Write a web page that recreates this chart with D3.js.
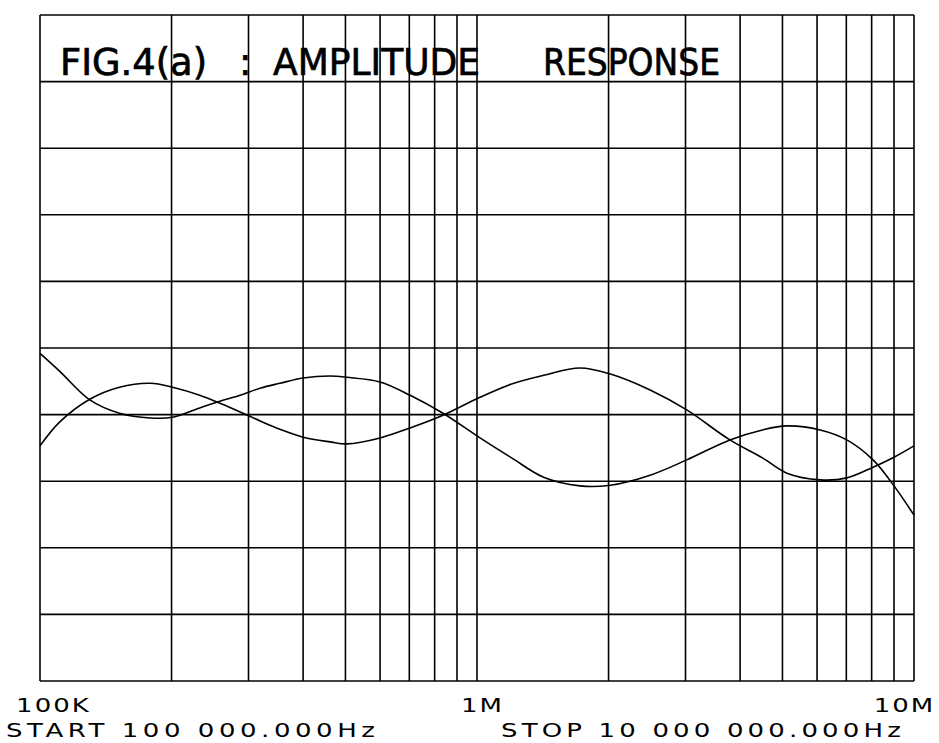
<!DOCTYPE html>
<html>
<head>
<meta charset="utf-8">
<script src="https://cdn.jsdelivr.net/npm/d3@7"></script>
<style>
  body { margin: 0; background: #fff; }
  svg { display: block; }
  .grid line { stroke: #000; stroke-width: 1.6; }
  .plot-text { font-family: "DejaVu Sans", sans-serif; fill: #000; }
  .plotter { font-size: 20px; }
</style>
</head>
<body>
<div id="chart"></div>
<script>
// frequency points (Hz) shared by both traces
const freqs = [100e3, 111e3, 130e3, 152e3, 179e3, 201e3, 232e3, 258e3, 287e3, 320e3,
    354e3, 400e3, 461e3, 504e3, 600e3, 703e3, 836e3, 1016e3, 1200e3, 1420e3,
    1720e3, 2020e3, 2490e3, 3020e3, 3790e3, 4500e3, 5120e3, 6100e3, 7020e3,
    8060e3, 9000e3, 10000e3]

// amplitude in vertical divisions (0 = bottom of screen, 10 = top)
const traceA = [4.92, 4.65, 4.22, 4.02, 3.95, 3.96, 4.10, 4.20, 4.29, 4.40,
    4.47, 4.55, 4.58, 4.56, 4.49, 4.29, 4.02, 3.65, 3.35, 3.06,
    2.93, 2.94, 3.09, 3.32, 3.62, 3.77, 3.83, 3.77, 3.62,
    3.32, 2.93, 2.49]
const traceB = [3.53, 3.89, 4.23, 4.41, 4.47, 4.41, 4.29, 4.17, 4.04, 3.90,
    3.78, 3.66, 3.59, 3.56, 3.65, 3.80, 3.99, 4.26, 4.46, 4.59,
    4.70, 4.61, 4.37, 4.07, 3.62, 3.35, 3.12, 3.02, 3.05,
    3.21, 3.36, 3.53]

const axisTicks = [1e5, 1e6, 1e7]
const axisLabels = ["100K", "1M", "10M"]
const startLabel = "START 100 000.000Hz"
const stopLabel = "STOP 10 000 000.000Hz"
const titleParts = ["FIG.4(a)", ":", "AMPLITUDE", "RESPONSE"]

const W = 939, H = 743
const margin = { top: 15, right: 25, bottom: 62, left: 40 }
const width = W - margin.left - margin.right
const height = H - margin.top - margin.bottom
const wide = 1.3   // horizontal stretch of the plotter lettering

const svg = d3.select("#chart").append("svg")
    .attr("width", W)
    .attr("height", H)

const g = svg.append("g")
    .attr("transform", "translate(" + margin.left + "," + margin.top + ")")

const x = d3.scaleLog()
    .domain([1e5, 1e7])
    .range([0, width])
const y = d3.scaleLinear()
    .domain([0, 10])
    .range([height, 0])

// grid: every 1..9 multiple on the log axis, ten divisions vertically
const grid = g.append("g").attr("class", "grid")
grid.selectAll(".vx")
    .data(x.ticks())
    .enter().append("line")
    .attr("x1", d => x(d)).attr("x2", d => x(d))
    .attr("y1", 0).attr("y2", height)
grid.selectAll(".hy")
    .data(y.ticks(10))
    .enter().append("line")
    .attr("x1", 0).attr("x2", width)
    .attr("y1", d => y(d)).attr("y2", d => y(d))

// handwritten title in the first row (absolute page x)
const titleX = [60, 239, 273, 543]
const titleLen = [147, null, 207, 177]
svg.selectAll(".title")
    .data(titleParts)
    .enter().append("text")
    .attr("class", "plot-text")
    .attr("x", (d, i) => titleX[i])
    .attr("y", 75)
    .attr("textLength", (d, i) => titleLen[i])
    .attr("lengthAdjust", "spacingAndGlyphs")
    .style("font-size", "37px")
    .style("stroke", "#000")
    .style("stroke-width", 0.7)
    .text(d => d)

const line = d3.line()
    .x((d, i) => x(freqs[i]))
    .y(d => y(d))
    .curve(d3.curveCatmullRom)

g.selectAll(".trace")
    .data([traceA, traceB])
    .enter().append("path")
    .attr("d", line)
    .attr("fill", "none")
    .attr("stroke", "#000")
    .attr("stroke-width", 1.6)

// frequency labels under the screen, in the analyser's wide plotter lettering
const labelDx = [13, 5, -10]
const xAxis = d3.axisBottom(x)
    .tickValues(axisTicks)
    .tickSize(0)
    .tickFormat((d, i) => axisLabels[i])
const axisG = g.append("g")
    .attr("transform", "translate(0," + height + ")")
    .call(xAxis)
axisG.select(".domain").remove()
axisG.selectAll("text")
    .attr("class", "plot-text plotter")
    .attr("y", 31)
    .attr("dy", 0)
    .attr("text-anchor", "middle")
    .style("letter-spacing", "1.6px")
    .attr("x", (d, i) => labelDx[i] / wide)
    .attr("transform", "scale(" + wide + ",1)")

svg.append("text")
    .attr("class", "plot-text plotter")
    .attr("transform", "translate(6,737) scale(" + wide + ",1)")
    .style("letter-spacing", "3.5px")
    .text(startLabel)
svg.append("text")
    .attr("class", "plot-text plotter")
    .attr("transform", "translate(501,737) scale(" + wide + ",1)")
    .style("letter-spacing", "3.2px")
    .text(stopLabel)
</script>
</body>
</html>
